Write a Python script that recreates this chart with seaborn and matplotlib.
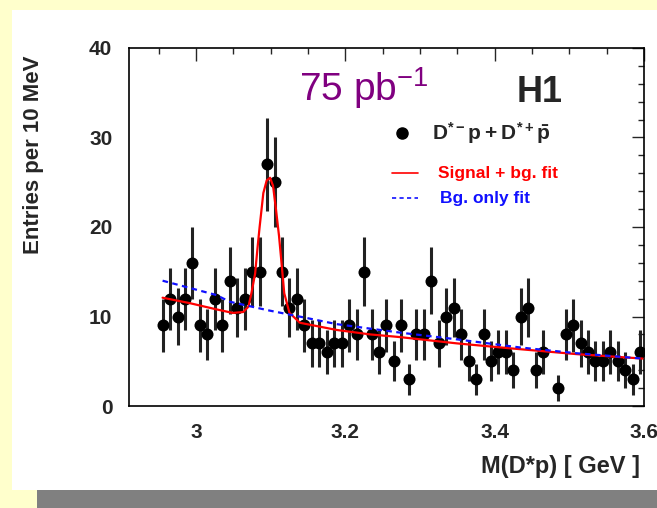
import numpy as np
import pandas as pd
import matplotlib
matplotlib.use("Agg")
import matplotlib.pyplot as plt
from matplotlib.patches import Rectangle
from matplotlib.ticker import MultipleLocator
import seaborn as sns

# data (entries per 10 MeV bin)
mass = np.round(np.arange(2.955, 3.6, 0.01), 3)
entries = [9, 12, 10, 12, 16, 9, 8, 12, 9, 14,
           11, 12, 15, 15, 27, 25, 15, 11, 12, 9,
           7, 7, 6, 7, 7, 9, 8, 15, 8, 6,
           9, 5, 9, 3, 8, 8, 14, 7, 10, 11,
           8, 5, 3, 8, 5, 6, 6, 4, 10, 11,
           4, 6, np.nan, 2, 8, 9, 7, 6, 5, 5,
           6, 5, 4, 3, 6]

# fit curves, points
sig_x = [2.955, 2.991, 3.027, 3.049, 3.063, 3.070, 3.074, 3.079, 3.082, 3.085,
         3.090, 3.0945, 3.099, 3.103, 3.107, 3.111, 3.114, 3.118, 3.125, 3.139,
         3.188, 3.233, 3.273, 3.349, 3.420, 3.509, 3.598]
sig_y = [12.1, 11.5, 10.8, 10.4, 10.5, 11.1, 12.6, 14.8, 17.5, 20.0,
         23.8, 25.2, 25.5, 24.6, 21.9, 19.0, 16.3, 12.6, 10.4, 9.3,
         8.5, 8.0, 7.7, 7.0, 6.45, 5.8, 5.3]
bg_x = [2.955, 3.027, 3.045, 3.096, 3.150, 3.188, 3.273, 3.349, 3.433, 3.509, 3.598]
bg_y = [14.0, 12.4, 11.65, 10.7, 9.8, 9.15, 8.2, 7.45, 6.55, 5.9, 5.3]

df = pd.DataFrame({"mass": mass, "entries": entries}).dropna()
df["err"] = np.sqrt(df["entries"])

sns.set_style("white")
plt.rcParams["font.family"] = ["Liberation Sans", "DejaVu Sans"]
plt.rcParams["mathtext.fontset"] = "custom"
plt.rcParams["mathtext.rm"] = "Liberation Sans"
plt.rcParams["mathtext.bf"] = "Liberation Sans:bold"

fig = plt.figure(figsize=(6.57, 5.08), dpi=100)
fig.patch.set_facecolor("#FFFFCC")
W, H = 657, 508
# white slide panel and gray bar
fig.add_artist(Rectangle((12 / W, 18 / H), 645 / W, 480 / H, transform=fig.transFigure,
                         facecolor="white", edgecolor="none", zorder=0))
fig.add_artist(Rectangle((37 / W, 0), 620 / W, 18 / H, transform=fig.transFigure,
                         facecolor="#808080", edgecolor="none", zorder=0))

ax = fig.add_axes([129 / W, 1 - 406 / H, 515 / W, 358 / H])
ax.set_facecolor("white")

ax.errorbar(df["mass"], df["entries"], yerr=df["err"], fmt="none",
            ecolor="#222222", elinewidth=2.2, capsize=0, zorder=2)
sns.scatterplot(data=df, x="mass", y="entries", ax=ax, color="black", s=75,
                edgecolor="black", linewidth=0, zorder=3)
sns.lineplot(x=sig_x, y=sig_y, ax=ax, color="#FF0000", linewidth=1.6, zorder=4,
             sort=False)
sns.lineplot(x=bg_x, y=bg_y, ax=ax, color="#1010FF", linewidth=1.6, zorder=4,
             linestyle=(0, (2.5, 2)))

ax.set_xlim(2.91, 3.6)
ax.set_ylim(0, 40)
ax.xaxis.set_minor_locator(MultipleLocator(0.05))
ax.yaxis.set_major_locator(MultipleLocator(10))
ax.yaxis.set_minor_locator(MultipleLocator(2))
ax.set_xticks([3.0, 3.2, 3.4, 3.6])
ax.set_xticklabels(["3", "3.2", "3.4", "3.6"])
ax.tick_params(which="both", direction="in", top=True, right=True, width=1)
ax.tick_params(which="major", length=9, labelsize=15, pad=12)
ax.tick_params(which="minor", length=4.5)
ax.tick_params(axis="y", pad=12)
for lab in ax.get_xticklabels() + ax.get_yticklabels():
    lab.set_fontweight("bold")
for sp in ax.spines.values():
    sp.set_linewidth(1.2)
    sp.set_color("black")
ax.set_xlabel("")
ax.set_ylabel("")

fig.text(34 / W, 1 - 155 / H, "Entries per 10 MeV", rotation=90, ha="center",
         va="center", fontsize=16, fontweight="bold")
fig.text(640 / W, 1 - 466 / H, "M(D*p) [ GeV ]", ha="right", va="center",
         fontsize=17, fontweight="bold")

# annotations and legend
fig.text(299 / W, 1 - 88 / H, r"75 pb$^{\mathregular{-1}}$", ha="left", va="center",
         fontsize=28, color="#800080")
fig.text(540 / W, 1 - 92 / H, "H1", ha="center", va="center", fontsize=26,
         fontweight="bold")
fig.text(432 / W, 1 - 133 / H, r"$\mathbf{D^{*-}p + D^{*+}\bar{p}}$", ha="left",
         va="center", fontsize=15)
fig.text(438 / W, 1 - 173 / H, "Signal + bg. fit", ha="left", va="center",
         fontsize=12.5, fontweight="bold", color="#FF0000")
fig.text(440 / W, 1 - 198 / H, "Bg. only fit", ha="left", va="center",
         fontsize=12.5, fontweight="bold", color="#1010FF")
fig.add_artist(plt.Line2D([392 / W, 418 / W], [1 - 173 / H] * 2, transform=fig.transFigure,
                          color="#FF0000", linewidth=1.2))
fig.add_artist(plt.Line2D([392 / W, 418 / W], [1 - 198 / H] * 2, transform=fig.transFigure,
                          color="#1010FF", linewidth=1.2, linestyle=(0, (2.5, 2))))
fig.add_artist(plt.Line2D([402 / W], [1 - 133 / H], transform=fig.transFigure,
                          marker="o", color="black", ms=8, linestyle="none"))

fig.savefig("out.png", dpi=100, facecolor=fig.get_facecolor())
